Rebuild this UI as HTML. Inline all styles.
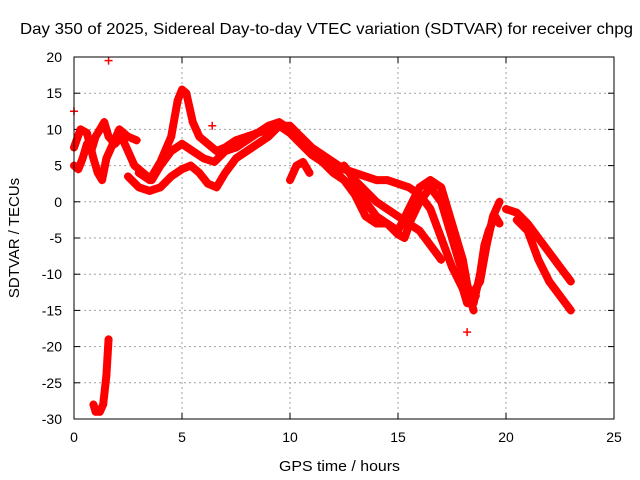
<!DOCTYPE html>
<html><head><meta charset="utf-8"><style>
html,body{margin:0;padding:0;background:#fff;}
svg{display:block;font-family:"Liberation Sans",sans-serif;}
</style></head><body>
<svg id="chart" width="640" height="480" viewBox="0 0 640 480" xmlns="http://www.w3.org/2000/svg">
<rect width="640" height="480" fill="#fff"/>
<text x="20" y="34" font-size="16" textLength="613" lengthAdjust="spacingAndGlyphs">Day 350 of 2025, Sidereal Day-to-day VTEC variation (SDTVAR) for receiver chpg</text>
<text x="279" y="471" font-size="15" textLength="121" lengthAdjust="spacingAndGlyphs">GPS time / hours</text>
<text transform="translate(19,238) rotate(-90)" font-size="15" text-anchor="middle">SDTVAR / TECUs</text>
<g id="grid"></g><g id="ticks"></g><g id="marks"></g>
<rect x="74" y="57" width="540" height="362" fill="none" stroke="#000" stroke-width="1"/>
</svg>
<script>
const xTicks=[0,5,10,15,20,25];
const yTicks=[20,15,10,5,0,-5,-10,-15,-20,-25,-30];
const seriesA=[[0,5],[0.2,4.5],[0.4,6],[0.6,8],[0.8,7],[1,9],[1.2,10],[1.4,11],[1.6,9],[1.9,8],[2.2,9],[2.5,7],[2.8,5],[3.2,4],[3.6,3],[4,5],[4.5,7],[5,8],[5.5,7],[6,6],[6.5,5.5],[7,7],[7.5,7.5],[8,8.5],[8.5,9.5],[9,10],[9.5,10.5],[10,9.5],[10.5,8],[11,6.5],[11.5,5.5],[12,4],[12.5,3],[13,2],[13.5,0],[14,-2],[14.5,-3],[15,-4.5],[15.3,-5],[15.6,-2.5],[16,0],[16.5,2],[17,0],[17.5,-5],[18,-10],[18.4,-13],[18.8,-11],[19.1,-6],[19.4,-2],[19.7,0]];
const seriesB=[[3,4],[3.5,3],[4,5.5],[4.5,9],[4.8,14],[5,15.5],[5.2,15],[5.5,11],[5.8,9],[6.2,8],[6.6,7],[7,7.5],[7.5,8.5],[8,9],[8.5,9.5],[9,10.5],[9.5,11],[10,10],[10.5,9],[11,7.5],[11.5,6.5],[12,5.5],[12.5,4.5],[13,4],[13.5,3.5],[14,3],[14.5,3],[15,2.5],[15.5,2],[16,1],[16.5,-1],[17,-5],[17.5,-9],[18,-12],[18.2,-14],[18.6,-13]];
const seriesC=[[2.5,3.5],[3,2],[3.5,1.5],[4,2],[4.5,3.5],[5,4.5],[5.4,5],[5.8,4],[6.2,2.5],[6.6,2],[7,4],[7.5,6],[8,7],[8.5,8],[9,9],[9.5,10.5],[10,10.5],[10.5,9],[11,7.5],[11.5,5.5],[12,4.5],[12.5,3],[13,1],[13.5,-2],[14,-3],[14.5,-3],[15,-4],[15.5,-1],[16,2],[16.5,3],[17,2],[17.5,-3],[18,-8],[18.3,-13],[18.5,-15]];
const seriesD=[[12.5,5],[13,3],[13.5,1.5],[14,0],[14.5,-1],[15,-2],[15.5,-3],[16,-4],[16.5,-6],[17,-8]];
const seriesE=[[0,7.5],[0.3,10],[0.6,9.5],[0.9,6],[1.1,4],[1.3,3],[1.5,6],[1.8,8],[2.1,10],[2.5,9],[2.9,8.5]];
const seriesF=[[18.5,-14],[18.8,-10],[19,-6],[19.2,-4],[19.5,-2],[19.7,-3]];
const seriesG=[[20,-1],[20.5,-1.5],[21,-3],[21.5,-5],[22,-7],[22.5,-9],[23,-11]];
const seriesH=[[20.5,-2.5],[21,-4],[21.5,-8],[22,-11],[22.5,-13],[23,-15]];
const seriesI=[[10,3],[10.3,5],[10.6,5.5],[10.9,4]];
const seriesJ=[[0.9,-28],[1,-29],[1.2,-29],[1.35,-28],[1.5,-24],[1.6,-19]];
const outliers=[[1.6,19.5],[18.2,-18],[0,12.5],[6.4,10.5],[20.5,-1.5]];
const allSeries=[seriesA,seriesB,seriesC,seriesD,seriesE,seriesF,seriesG,seriesH,seriesI,seriesJ];
const NS="http://www.w3.org/2000/svg";
function xs(v){return 74+(v-0)/25*540;}
function ys(v){return 419-(v+30)/50*362;}
const grid=document.getElementById('grid'),ticks=document.getElementById('ticks'),marks=document.getElementById('marks');
function mk(tag,attrs,parent){const e=document.createElementNS(NS,tag);for(const k in attrs)e.setAttribute(k,attrs[k]);parent.appendChild(e);return e;}
xTicks.forEach(t=>{const x=xs(t);
 if(t>0&&t<25){const g=mk('line',{x1:x,x2:x,y1:57,y2:419,stroke:'#a0a0a0','stroke-dasharray':'2,3'},grid);
 
 }
 mk('line',{x1:x,x2:x,y1:419,y2:413,stroke:'#000'},ticks);mk('line',{x1:x,x2:x,y1:57,y2:63,stroke:'#000'},ticks);
 const l=mk('text',{x:x,y:442,'font-size':14,'text-anchor':'middle'},ticks);l.textContent=t;
 
 });
yTicks.forEach(t=>{const y=ys(t);
 if(t>-30&&t<20){const g=mk('line',{x1:74,x2:614,y1:y,y2:y,stroke:'#a0a0a0','stroke-dasharray':'2,3'},grid);
 
 }
 mk('line',{x1:74,x2:80,y1:y,y2:y,stroke:'#000'},ticks);mk('line',{x1:614,x2:608,y1:y,y2:y,stroke:'#000'},ticks);
 const l=mk('text',{x:62,y:y+5,'font-size':14,'text-anchor':'end'},ticks);l.textContent=t;
 
 });
function plus(p){const x=xs(p[0]),y=ys(p[1]);const g=mk('path',{d:`M${x-4} ${y}H${x+4}M${x} ${y-4}V${y+4}`,stroke:'#f00','stroke-width':1.5,fill:'none'},marks);
 
 }
allSeries.forEach(s=>{const pl=mk('polyline',{points:s.map(p=>xs(p[0])+','+ys(p[1])).join(' '),fill:'none',stroke:'#f00','stroke-width':8,'stroke-linejoin':'round','stroke-linecap':'round'},marks);
 
 
 s.forEach(plus);});
outliers.forEach(plus);
</script>
</body></html>
